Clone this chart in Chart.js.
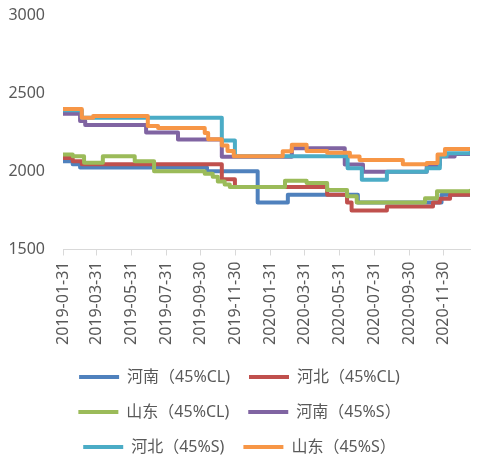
<!DOCTYPE html>
<html>
<head>
<meta charset="utf-8">
<script src="https://cdn.jsdelivr.net/npm/chart.js@4/dist/chart.umd.min.js"></script>
<style>
  html, body { margin: 0; padding: 0; background: #fff; }
  #wrap { width: 488px; height: 462px; }
</style>
</head>
<body>
<div id="wrap"><canvas id="grafico"></canvas></div>
<script>
// series names (legend order)
var seriesNames = ['河南（45%CL)', '河北（45%CL)', '山东（45%CL)', '河南（45%S）', '河北（45%S)', '山东（45%S）'];
var seriesColors = ['#4F81BD', '#C0504D', '#9BBB59', '#8064A2', '#4BACC6', '#F79646'];

// x axis tick labels
var tickDates = ['2019-01-31', '2019-03-31', '2019-05-31', '2019-07-31', '2019-09-30', '2019-11-30',
                 '2020-01-31', '2020-03-31', '2020-05-31', '2020-07-31', '2020-09-30', '2020-11-30'];
var startDate = '2019-01-31';
var endDate = '2021-01-15';

// y axis
var yMin = 1500, yMax = 3000, yStep = 500;

// price change points (step series): date where a new price starts, and the price
var henanCLDates = ['2019-01-31', '2019-02-17', '2019-03-02', '2019-10-11', '2020-01-08', '2020-03-01', '2020-07-02', '2020-11-26', endDate];
var henanCLValues = [2065, 2045, 2025, 2000, 1800, 1850, 1800, 1850, 1850];

var hebeiCLDates = ['2019-01-31', '2019-02-17', '2019-03-05', '2019-11-06', '2019-11-29', '2020-05-09', '2020-06-13', '2020-06-21', '2020-08-22', '2020-11-11', '2020-11-23', '2020-12-11', endDate];
var hebeiCLValues = [2085, 2065, 2045, 1950, 1900, 1850, 1800, 1750, 1775, 1800, 1825, 1850, 1855];

var shandongCLDates = ['2019-01-31', '2019-02-17', '2019-03-09', '2019-04-11', '2019-06-06', '2019-07-10', '2019-10-07', '2019-10-21', '2019-10-30', '2019-11-11', '2019-11-20', '2020-02-25', '2020-04-03', '2020-05-09', '2020-06-13', '2020-06-30', '2020-10-28', '2020-11-18', endDate];
var shandongCLValues = [2108, 2096, 2055, 2096, 2065, 2000, 1985, 1965, 1935, 1915, 1900, 1940, 1925, 1880, 1840, 1800, 1827, 1872, 1875];

var henanSDates = ['2019-01-31', '2019-03-02', '2019-03-11', '2019-06-26', '2019-08-21', '2019-11-06', '2020-03-08', '2020-06-09', '2020-07-11', '2020-10-31', '2020-11-23', '2020-12-19', endDate];
var henanSValues = [2368, 2322, 2297, 2248, 2204, 2093, 2148, 2043, 1997, 2040, 2095, 2110, 2110];

var hebeiSDates = ['2019-01-31', '2019-03-05', '2019-11-06', '2019-11-29', '2020-06-14', '2020-07-09', '2020-08-22', '2020-10-31', '2020-11-23', '2020-12-05', endDate];
var hebeiSValues = [2390, 2343, 2197, 2096, 2020, 1946, 1997, 2020, 2096, 2115, 2118];

var shandongSDates = ['2019-01-31', '2019-03-05', '2019-03-25', '2019-06-29', '2019-07-17', '2019-10-07', '2019-10-13', '2019-11-06', '2019-11-16', '2019-11-27', '2020-02-21', '2020-03-08', '2020-04-03', '2020-05-09', '2020-06-18', '2020-07-05', '2020-09-19', '2020-10-31', '2020-11-19', '2020-12-02', endDate];
var shandongSValues = [2398, 2343, 2354, 2290, 2277, 2245, 2205, 2165, 2130, 2097, 2128, 2170, 2130, 2118, 2095, 2072, 2045, 2053, 2107, 2142, 2142];

var seriesDates = [henanCLDates, hebeiCLDates, shandongCLDates, henanSDates, hebeiSDates, shandongSDates];
var seriesValues = [henanCLValues, hebeiCLValues, shandongCLValues, henanSValues, hebeiSValues, shandongSValues];

// days since start date
function dia(d) {
    return Math.round((Date.parse(d) - Date.parse(startDate)) / 864e5);
}

var fuente = '"Noto Sans", "Noto Sans CJK SC", sans-serif';
var gris = '#595959';

var datasets = seriesNames.map(function (nombre, i) {
    return {
        label: nombre,
        data: seriesDates[i].map(function (d, j) { return { x: dia(d), y: seriesValues[i][j] }; }),
        borderColor: seriesColors[i],
        backgroundColor: seriesColors[i],
        borderWidth: 4,
        stepped: 'before',
        pointRadius: 0,
        borderCapStyle: 'round',
        borderJoinStyle: 'round',
        order: seriesNames.length - i   // later series drawn on top
    };
});

var ctx = document.getElementById('grafico').getContext('2d');
new Chart(ctx, {
    type: 'line',
    data: { datasets: datasets },
    options: {
        responsive: true,
        maintainAspectRatio: false,
        animation: false,
        layout: { padding: { left: 9, right: 18, top: 15, bottom: -3 } },
        plugins: {
            tooltip: { enabled: false },
            legend: {
                position: 'bottom',
                labels: {
                    color: gris,
                    font: { family: fuente, size: 16 },
                    boxWidth: 40,
                    boxHeight: 4,
                    padding: 19,
                    sort: function (a, b) { return a.datasetIndex - b.datasetIndex; },
                    generateLabels: function (chart) {
                        var items = Chart.defaults.plugins.legend.labels.generateLabels(chart);
                        items.forEach(function (it) { it.lineWidth = 0; });
                        return items;
                    }
                }
            }
        },
        scales: {
            x: {
                type: 'linear',
                min: 0,
                max: dia(endDate),
                afterBuildTicks: function (axis) {
                    axis.ticks = tickDates.map(function (d) { return { value: dia(d) }; });
                },
                afterFit: function (axis) {
                    // labels are vertical: no side padding needed
                    axis.paddingLeft = 0;
                    axis.paddingRight = 0;
                    axis.height -= 1;
                },
                ticks: {
                    autoSkip: false,
                    minRotation: 90,
                    maxRotation: 90,
                    color: gris,
                    font: { family: fuente, size: 16 },
                    padding: 6,
                    callback: function (v) {
                        var k = tickDates.map(dia).indexOf(v);
                        return k >= 0 ? tickDates[k] : '';
                    }
                },
                grid: { drawOnChartArea: false, drawTicks: true, tickLength: 6, color: '#D9D9D9' },
                border: { color: '#D9D9D9', width: 1 }
            },
            y: {
                min: yMin,
                max: yMax,
                afterFit: function (axis) {
                    axis.paddingTop = 0;
                    axis.paddingBottom = 0;
                    axis.width = 54;
                },
                ticks: {
                    stepSize: yStep,
                    color: gris,
                    font: { family: fuente, size: 16 },
                    padding: 18,
                    callback: function (v) { return String(v); }
                },
                grid: { display: false, drawTicks: false },
                border: { display: false }
            }
        }
    }
});
</script>
</body>
</html>
